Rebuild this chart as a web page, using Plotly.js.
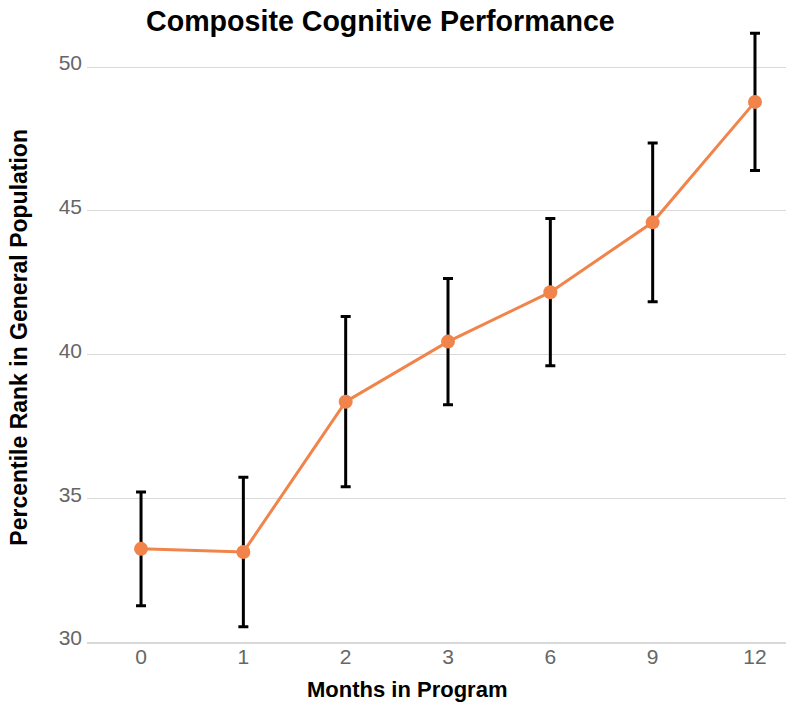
<!DOCTYPE html>
<html>
<head>
<meta charset="utf-8">
<script src="https://cdn.plot.ly/plotly-3.0.1.min.js"></script>
<style>html,body{margin:0;padding:0;background:#fff;}#chart{width:786px;height:704px;}</style>
</head>
<body>
<div id="chart"></div>
<script>
const months = ['0', '1', '2', '3', '6', '9', '12'];
const percentile = [33.24, 33.13, 38.36, 40.45, 42.17, 44.60, 48.79];
const errorHalf = [1.98, 2.60, 2.96, 2.20, 2.56, 2.76, 2.39];
const yTicks = [30, 35, 40, 45, 50];

const font = 'Liberation Sans, Arial, Helvetica, sans-serif';

const trace = {
  x: months,
  y: percentile,
  type: 'scatter',
  mode: 'lines+markers',
  line: {color: '#F0844A', width: 3},
  marker: {color: '#F0844A', size: 14},
  error_y: {type: 'data', array: errorHalf, visible: true, color: '#000000', thickness: 3, width: 5},
  hoverinfo: 'x+y'
};

const layout = {
  width: 786,
  height: 704,
  margin: {l: 87, r: 0, t: 24, b: 62},
  paper_bgcolor: '#ffffff',
  plot_bgcolor: '#ffffff',
  showlegend: false,
  title: {
    text: '<b>Composite Cognitive Performance</b>',
    font: {family: font, size: 28.6, color: '#000000'},
    x: 0.484, xref: 'container', xanchor: 'center',
    y: 0.97, yref: 'container', yanchor: 'middle'
  },
  xaxis: {
    type: 'category',
    range: [-0.528, 6.303],
    showgrid: false,
    showline: true,
    linecolor: '#d9d9d9',
    linewidth: 2,
    ticks: '',
    ticklabelstandoff: -5,
    tickfont: {family: font, size: 21, color: '#666666'},
    zeroline: false
  },
  yaxis: {
    range: [30, 51.5],
    tickvals: yTicks,
    ticktext: yTicks.map(String),
    showgrid: true,
    gridcolor: '#d9d9d9',
    gridwidth: 1,
    zeroline: false,
    showline: false,
    ticks: '',
    ticklabelstandoff: 4,
    ticklabelshift: -4,
    tickfont: {family: font, size: 21, color: '#666666'}
  },
  annotations: [
    {
      text: '<b>Months in Program</b>',
      xref: 'paper', yref: 'paper', x: 0.4578, y: -0.0772,
      xanchor: 'center', yanchor: 'middle', showarrow: false,
      font: {family: font, size: 22, color: '#000000'}
    },
    {
      text: '<b>Percentile Rank in General Population</b>',
      xref: 'paper', yref: 'paper', x: -0.0973, y: 0.494,
      xanchor: 'center', yanchor: 'middle', showarrow: false, textangle: -90,
      font: {family: font, size: 23, color: '#000000'}
    }
  ]
};

Plotly.newPlot('chart', [trace], layout, {displayModeBar: false, staticPlot: true});
</script>
</body>
</html>
